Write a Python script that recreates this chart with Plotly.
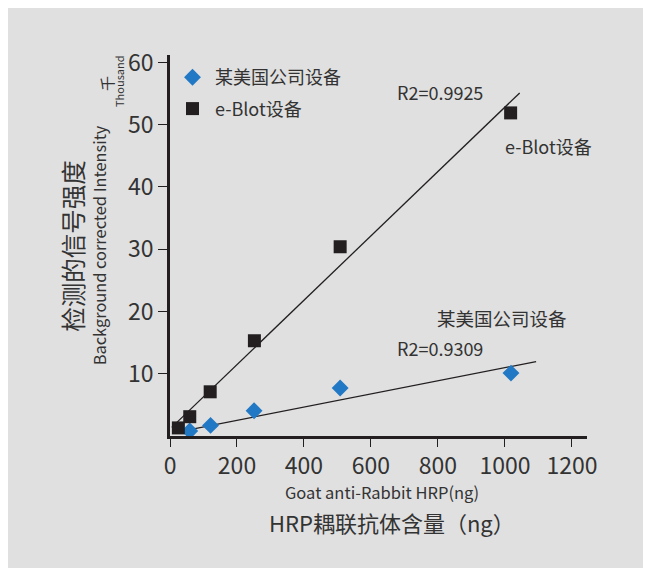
import plotly.graph_objects as go

# ---- data ----
blot_x = [25, 59, 120, 252, 508, 1017]
blot_y = [1.3, 3.1, 7.1, 15.3, 30.4, 51.9]
us_x = [59, 121, 251, 508, 1018]
us_y = [0.8, 1.7, 4.05, 7.7, 10.1]

blot_fit_slope, blot_fit_intercept, blot_fit_range = 0.0517, 1.13, [5, 1044]
us_fit_slope, us_fit_intercept, us_fit_range = 0.01057, 0.41, [10, 1093]

x_ticks = [0, 200, 400, 600, 800, 1000, 1200]
y_ticks = [10, 20, 30, 40, 50, 60]

name_us = "某美国公司设备"
name_blot = "e-Blot设备"
r2_blot = "R2=0.9925"
r2_us = "R2=0.9309"

FONT = "Noto Sans CJK SC"
TXT = "#333333"
DARK = "#231f20"
BLUE = "#2178c4"
BG = "#e0e0e0"

fig = go.Figure()

fig.add_trace(go.Scatter(
    x=blot_fit_range, y=[blot_fit_slope * v + blot_fit_intercept for v in blot_fit_range],
    mode="lines", line=dict(color=DARK, width=1.3), showlegend=False, hoverinfo="skip"))
fig.add_trace(go.Scatter(
    x=us_fit_range, y=[us_fit_slope * v + us_fit_intercept for v in us_fit_range],
    mode="lines", line=dict(color=DARK, width=1.3), showlegend=False, hoverinfo="skip"))

fig.add_trace(go.Scatter(
    x=us_x, y=us_y, mode="markers", name=name_us, legendgroup="a",
    marker=dict(symbol="diamond", size=13, color=BLUE)))
fig.add_trace(go.Scatter(
    x=blot_x, y=blot_y, mode="markers", name=name_blot, legendgroup="b",
    marker=dict(symbol="square", size=13, color=DARK)))

# screen-pixel (as seen in the reference) -> paper coordinates
def px2x(p):
    return (p - 170) / 417

def px2y(p):
    return (436.5 - p) / 381.5

def A(**kw):
    d = dict(showarrow=False, xanchor="center", yanchor="middle")
    d.update(kw)
    return d

ann = [
    A(x=807, y=55.3, xref="x", yref="y", text=r2_blot,
      font=dict(size=18, color=TXT, family=FONT)),
    A(x=1129, y=46.6, xref="x", yref="y", text=name_blot,
      font=dict(size=18, color=TXT, family=FONT)),
    A(x=991, y=19.0, xref="x", yref="y", text=name_us,
      font=dict(size=18.5, color=TXT, family=FONT)),
    A(x=807, y=14.2, xref="x", yref="y", text=r2_us,
      font=dict(size=18, color=TXT, family=FONT)),
    A(x=px2x(382), y=px2y(493), xref="paper", yref="paper",
      text="Goat anti-Rabbit HRP(ng)", font=dict(size=16.5, color=TXT, family=FONT)),
    A(x=px2x(392), y=px2y(523), xref="paper", yref="paper",
      text="HRP耦联抗体含量（ng）", font=dict(size=22, color=TXT, family=FONT)),
    A(x=px2x(73), y=px2y(246), xref="paper", yref="paper", textangle=-90,
      text="检测的信号强度", font=dict(size=24.5, color=TXT, family=FONT)),
    A(x=px2x(98.5), y=px2y(246), xref="paper", yref="paper", textangle=-90,
      text="Background corrected Intensity", font=dict(size=16.4, color=TXT, family=FONT)),
    A(x=px2x(119), y=px2y(82), xref="paper", yref="paper", textangle=-90,
      text="Thousand", font=dict(size=11, color=TXT, family=FONT)),
    A(x=px2x(107), y=px2y(84), xref="paper", yref="paper", textangle=-90,
      text="千", font=dict(size=15, color=TXT, family=FONT)),
]

fig.update_layout(
    width=651, height=568,
    margin=dict(l=162, r=72, t=47, b=139.5),
    paper_bgcolor=BG, plot_bgcolor=BG,
    font=dict(family=FONT, color=TXT),
    annotations=ann,
    legend=dict(x=px2x(170), y=px2y(59), xanchor="left", yanchor="top",
                bgcolor="rgba(0,0,0,0)", font=dict(size=18, color=TXT, family=FONT),
                tracegroupgap=5, itemwidth=35),
    xaxis=dict(range=[0, 1245], tickvals=x_ticks, ticks="outside", ticklen=8,
               tickwidth=1, tickcolor=DARK, showline=True, linecolor=DARK, linewidth=2.5,
               showgrid=False, zeroline=False, tickfont=dict(size=23, color=TXT, family=FONT)),
    yaxis=dict(range=[0, 61.2], tickvals=y_ticks, ticks="outside", ticklen=9,
               tickwidth=1, tickcolor=DARK, showline=True, linecolor=DARK, linewidth=2.5,
               showgrid=False, zeroline=False, ticklabelstandoff=0,
               tickfont=dict(size=23, color=TXT, family=FONT)),
)

fig.write_html("out.html")
